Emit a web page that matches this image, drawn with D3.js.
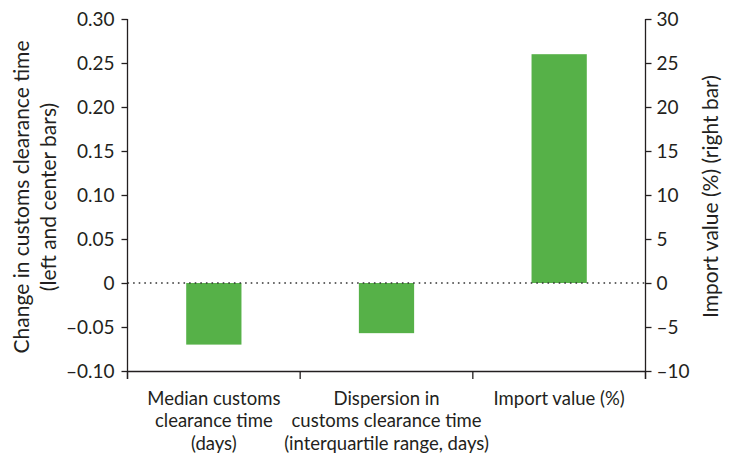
<!DOCTYPE html>
<html><head><meta charset="utf-8">
<script src="https://cdn.jsdelivr.net/npm/d3@7"></script>
<style>body{margin:0;background:#fff}text{font-family:Lato,"Open Sans",sans-serif;fill:#231f20}</style>
</head><body><svg id="c" width="732" height="454"></svg>
<script>
const categories = [["Median customs","clearance time","(days)"],["Dispersion in","customs clearance time","(interquartile range, days)"],["Import value (%)"]];
const barAxis = ["left","left","right"];
const values = [-0.07, -0.057, 26];
const leftTicks = [-0.10,-0.05,0,0.05,0.10,0.15,0.20,0.25,0.30];
const rightTicks = [-10,-5,0,5,10,15,20,25,30];
const leftTitle = ["Change in customs clearance time","(left and center bars)"];
const rightTitle = "Import value (%) (right bar)";

const svg = d3.select("#c");
const m = {l:127.5, r:645.5, t:19, b:371};
const x = d3.scaleBand().domain(d3.range(categories.length)).range([m.l, m.r]).paddingInner(0.68).paddingOuter(0.34);
const xt = d3.scaleBand().domain(d3.range(categories.length)).range([m.l, m.r]);
const yL = d3.scaleLinear().domain([-0.10,0.30]).range([m.b, m.t]);
const yR = d3.scaleLinear().domain([-10,30]).range([m.b, m.t]);
const dash = s => s.replace(/[-\u2212]/g,"\u2013");

// bars
svg.append("g").selectAll("rect").data(values).join("rect")
  .attr("x",(d,i)=>x(i)).attr("width",x.bandwidth())
  .attr("y",(d,i)=>{const s=barAxis[i]==="left"?yL:yR;return Math.min(s(d),s(0));})
  .attr("height",(d,i)=>{const s=barAxis[i]==="left"?yL:yR;return Math.abs(s(d)-s(0));})
  .attr("fill","#56b148");

// zero line
svg.append("line").attr("x1",m.l).attr("x2",m.r).attr("y1",yL(0)).attr("y2",yL(0))
  .attr("stroke","#333").attr("stroke-width",1.6).attr("stroke-dasharray","1.6,4");

// y axes
const gl = svg.append("g").attr("transform",`translate(${m.l},0)`)
  .call(d3.axisLeft(yL).tickValues(leftTicks).tickSize(6).tickPadding(7)
    .tickFormat(d=>d===0?"0":dash(d3.format(".2f")(d))));
const gr = svg.append("g").attr("transform",`translate(${m.r},0)`)
  .call(d3.axisRight(yR).tickValues(rightTicks).tickSize(6).tickPadding(5)
    .tickFormat(d=>dash(String(d))));
[gl,gr].forEach(g=>{
  g.select(".domain").remove();
  g.selectAll("line").attr("stroke","#231f20").attr("stroke-width",1.3);
  g.selectAll("text").attr("font-size",19).style("font-family","Lato,'Open Sans',sans-serif").attr("fill","#231f20");
});
svg.append("line").attr("x1",m.l).attr("x2",m.l).attr("y1",m.t).attr("y2",m.b+8).attr("stroke","#231f20").attr("stroke-width",1.3);
svg.append("line").attr("x1",m.r).attr("x2",m.r).attr("y1",m.t).attr("y2",m.b+8).attr("stroke","#231f20").attr("stroke-width",1.3);

// bottom axis
const gb = svg.append("g").attr("transform",`translate(0,${m.b})`)
  .call(d3.axisBottom(xt).tickSize(0).tickFormat(""));
gb.select(".domain").attr("stroke","#231f20").attr("stroke-width",1.3);
const bticks = d3.range(categories.length+1).map(i=>m.l+i*xt.step());
svg.append("g").selectAll("line").data(bticks).join("line")
  .attr("x1",d=>d).attr("x2",d=>d).attr("y1",m.b).attr("y2",m.b+8).attr("stroke","#231f20").attr("stroke-width",1.3);

// category labels
const lab = svg.append("g").selectAll("text").data(categories).join("text")
  .attr("text-anchor","middle").attr("font-size",18.5)
  .attr("transform",(d,i)=>`translate(${xt(i)+xt.bandwidth()/2},404.5)`);
lab.selectAll("tspan").data(d=>d).join("tspan").attr("x",0).attr("dy",(d,j)=>j===0?0:22.5).text(d=>d);

// left title
const lt = svg.append("text").attr("text-anchor","middle").attr("font-size",21)
  .attr("transform","translate(28.5,197) rotate(-90)");
lt.selectAll("tspan").data(leftTitle).join("tspan").attr("x",0).attr("dy",(d,j)=>j===0?0:27).text(d=>d);

// right title
svg.append("text").attr("text-anchor","middle").attr("font-size",21)
  .attr("transform","translate(718,196.5) rotate(-90)").text(rightTitle);
</script></body></html>
